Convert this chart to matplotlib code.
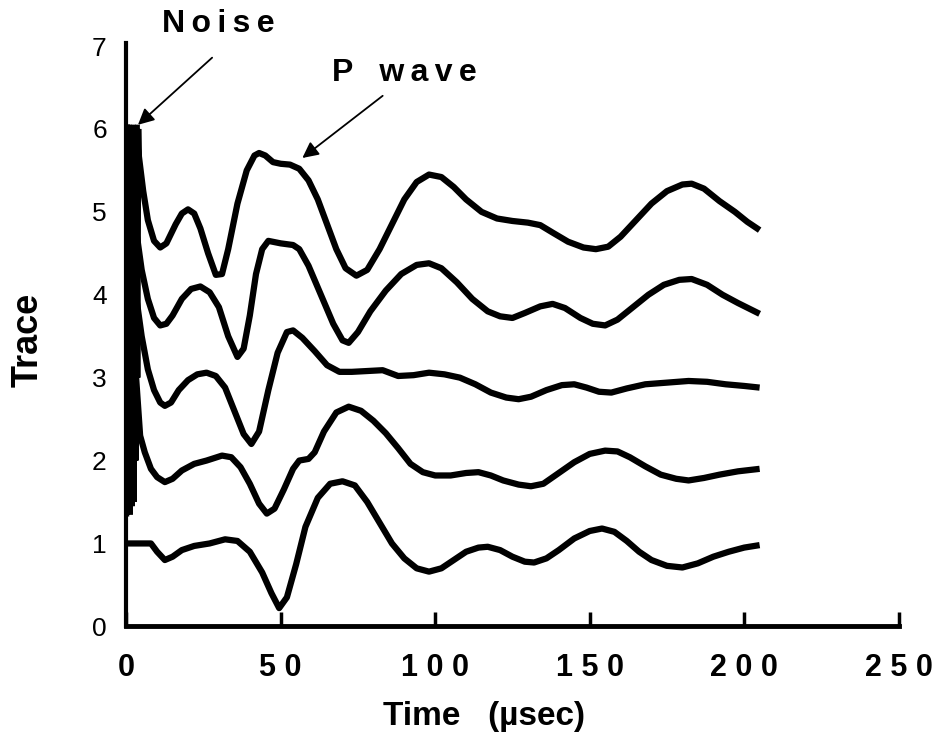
import matplotlib
matplotlib.use("Agg")
import matplotlib.pyplot as plt

plt.rcParams['font.family'] = ['Liberation Sans', 'DejaVu Sans']

# trace 1 (bottom)
t1 = [0, 8, 10, 12.5, 15, 18, 22, 27, 32, 36, 40, 44, 47, 49.5, 52, 55, 58, 62, 66, 70, 74, 78, 82, 86,
      90, 94, 98, 102, 106, 110, 114, 117, 121, 125, 129, 132, 136, 140, 145, 150, 154, 158, 162, 166,
      170, 175, 180, 185, 190, 195, 200, 205]
v1 = [1.0, 1.0, 0.9, 0.8, 0.84, 0.92, 0.97, 1.0, 1.05, 1.03, 0.9, 0.65, 0.4, 0.22, 0.35, 0.75, 1.2, 1.55,
      1.72, 1.75, 1.7, 1.5, 1.25, 1.0, 0.82, 0.7, 0.66, 0.7, 0.8, 0.9, 0.95, 0.96, 0.92, 0.84, 0.78, 0.77,
      0.82, 0.92, 1.06, 1.15, 1.18, 1.14, 1.03, 0.9, 0.8, 0.73, 0.71, 0.76, 0.84, 0.9, 0.95, 0.98]

# trace 2
t2 = [3.2, 4.5, 6, 8, 10, 12.5, 15, 18, 22, 26, 31, 34, 37, 40, 43, 45.5, 48, 51, 54, 56, 59, 61, 64, 68,
      72, 76, 80, 84, 88, 92, 96, 100, 105, 110, 114, 118, 122, 127, 131, 135, 140, 145, 150, 155, 159,
      163, 168, 173, 178, 182, 187, 192, 198, 205]
v2 = [3.0, 2.3, 2.1, 1.9, 1.8, 1.74, 1.78, 1.88, 1.96, 2.0, 2.06, 2.04, 1.92, 1.72, 1.48, 1.36, 1.42, 1.65,
      1.9, 2.0, 2.02, 2.1, 2.35, 2.58, 2.65, 2.6, 2.48, 2.33, 2.15, 1.96, 1.86, 1.82, 1.82, 1.85, 1.86,
      1.82, 1.76, 1.71, 1.69, 1.72, 1.85, 1.98, 2.08, 2.12, 2.11, 2.04, 1.93, 1.83, 1.78, 1.76, 1.79,
      1.83, 1.87, 1.9]

# trace 3
t3 = [3.5, 5, 7, 9, 11, 12.5, 14.5, 17, 20, 23, 26, 29, 32, 35, 38, 40.5, 43, 46, 49, 52, 54, 57, 61, 65,
      69, 73, 78, 83, 88, 93, 98, 103, 108, 113, 118, 123, 127, 131, 136, 141, 145, 149, 153, 157, 162,
      168, 175, 182, 188, 194, 200, 205]
v3 = [3.9, 3.5, 3.1, 2.85, 2.7, 2.66, 2.7, 2.85, 2.97, 3.04, 3.06, 3.02, 2.88, 2.6, 2.32, 2.2, 2.35, 2.85,
      3.3, 3.55, 3.57, 3.48, 3.32, 3.15, 3.07, 3.07, 3.08, 3.09, 3.02, 3.03, 3.06, 3.04, 3.0, 2.92, 2.82,
      2.76, 2.74, 2.77, 2.85, 2.91, 2.92, 2.88, 2.83, 2.82, 2.87, 2.92, 2.94, 2.96, 2.95, 2.92, 2.9, 2.88]

# trace 4
t4 = [3.5, 5, 7, 9, 11, 13, 15, 18, 21, 24, 27, 30, 33, 36, 38, 40, 42, 44, 46, 50, 54, 56, 59, 63, 67, 70,
      72, 75, 79, 84, 89, 94, 98, 102, 107, 112, 117, 121, 125, 129, 134, 138, 142, 147, 151, 155, 159,
      164, 169, 174, 179, 183, 188, 193, 198, 205]
v4 = [4.7, 4.3, 3.95, 3.72, 3.63, 3.65, 3.75, 3.95, 4.07, 4.1, 4.03, 3.85, 3.5, 3.25, 3.35, 3.75, 4.25,
      4.55, 4.65, 4.62, 4.6, 4.55, 4.35, 4.0, 3.65, 3.45, 3.42, 3.55, 3.8, 4.05, 4.25, 4.36, 4.38, 4.32,
      4.15, 3.95, 3.8, 3.74, 3.72, 3.78, 3.86, 3.89, 3.84, 3.72, 3.65, 3.63, 3.7, 3.85, 4.0, 4.12, 4.18,
      4.19, 4.12, 4.0, 3.9, 3.77]

# trace 5 (top)
t5 = [3, 4, 5.5, 7, 9, 11, 13, 16, 18, 20, 22, 24, 26.5, 29, 31, 33, 36, 39, 41.5, 43, 45, 47.5, 50, 53,
      56, 59, 62, 65, 68, 71, 74.5, 78, 82, 86, 90, 94, 98, 102, 106, 110, 115, 120, 125, 130, 134, 138,
      143, 148, 152, 156, 160, 165, 170, 175, 180, 183, 187, 192, 197, 201, 205]
v5 = [6.0, 5.7, 5.25, 4.9, 4.65, 4.57, 4.62, 4.85, 4.98, 5.03, 4.98, 4.8, 4.5, 4.24, 4.25, 4.55, 5.1, 5.5,
      5.68, 5.71, 5.68, 5.6, 5.58, 5.57, 5.52, 5.38, 5.15, 4.85, 4.55, 4.32, 4.23, 4.3, 4.55, 4.85, 5.15,
      5.36, 5.45, 5.42, 5.3, 5.15, 5.0, 4.92, 4.89, 4.87, 4.84, 4.75, 4.64, 4.57, 4.55, 4.58, 4.7, 4.9,
      5.1, 5.25, 5.33, 5.34, 5.28, 5.13, 5.0, 4.88, 4.78]

# noise burst at the start of the records
noise_t = [0.3, 0.6, 0.9, 1.2, 1.5, 1.8, 2.1, 2.4, 2.7, 3.0, 3.3, 3.6, 3.9, 4.2, 4.5]
noise_v = [1.35, 6.05, 1.4, 6.05, 1.35, 6.0, 1.45, 6.05, 1.5, 6.0, 2.0, 6.05, 3.0, 6.0, 5.4]

xticks = [0, 50, 100, 150, 200, 250]
xtick_labels = ['0', '5 0', '1 0 0', '1 5 0', '2 0 0', '2 5 0']
yticks = [0, 1, 2, 3, 4, 5, 6, 7]

fig = plt.figure(figsize=(9.42, 7.43), dpi=100)
ax = fig.add_axes([0.134, 0.157, 0.820, 0.781])

lw = 4.5
ax.plot(noise_t, noise_v, color='black', lw=3, solid_joinstyle='miter')
for t, v in [(t1, v1), (t2, v2), (t3, v3), (t4, v4), (t5, v5)]:
    ax.plot(t, v, color='black', lw=lw, solid_capstyle='butt', solid_joinstyle='round')

ax.set_xlim(0, 250)
ax.set_ylim(0, 7)
ax.spines['top'].set_visible(False)
ax.spines['right'].set_visible(False)
ax.spines['left'].set_linewidth(3)
ax.spines['bottom'].set_linewidth(3.5)
ax.spines['left'].set_bounds(0, 7.04)

ax.set_xticks(xticks)
ax.set_xticklabels(xtick_labels, fontsize=22, fontweight='bold')
ax.set_yticks(yticks)
ax.set_yticklabels([str(y) for y in yticks], fontsize=19)
ax.tick_params(axis='x', direction='in', length=10, width=2.5, pad=19)
ax.tick_params(axis='y', length=0, pad=14)

fig.text(484 / 942, 1 - 716 / 743, 'Time   (\u00b5sec)', fontsize=24, fontweight='bold',
         ha='center', va='center')
fig.text(28 / 942, 1 - 340 / 743, 'Trace', fontsize=26, fontweight='bold',
         ha='center', va='center', rotation=90)

ths = '\u2009'
ax.text(29.8, 7.09, ths.join('Noise'), fontsize=23, fontweight='bold',
        ha='center', va='bottom', clip_on=False)
ax.text(90, 6.49, 'P   ' + ths.join('wave'), fontsize=23, fontweight='bold',
        ha='center', va='bottom', clip_on=False)

arrow = dict(arrowstyle='-|>', color='black', lw=1.3, mutation_scale=24, shrinkA=0, shrinkB=0)
ax.annotate('', xy=(3.8, 6.05), xytext=(27.8, 6.86), arrowprops=arrow, annotation_clip=False)
ax.annotate('', xy=(57, 5.65), xytext=(83, 6.4), arrowprops=arrow, annotation_clip=False)

fig.savefig('out.png', dpi=100)
